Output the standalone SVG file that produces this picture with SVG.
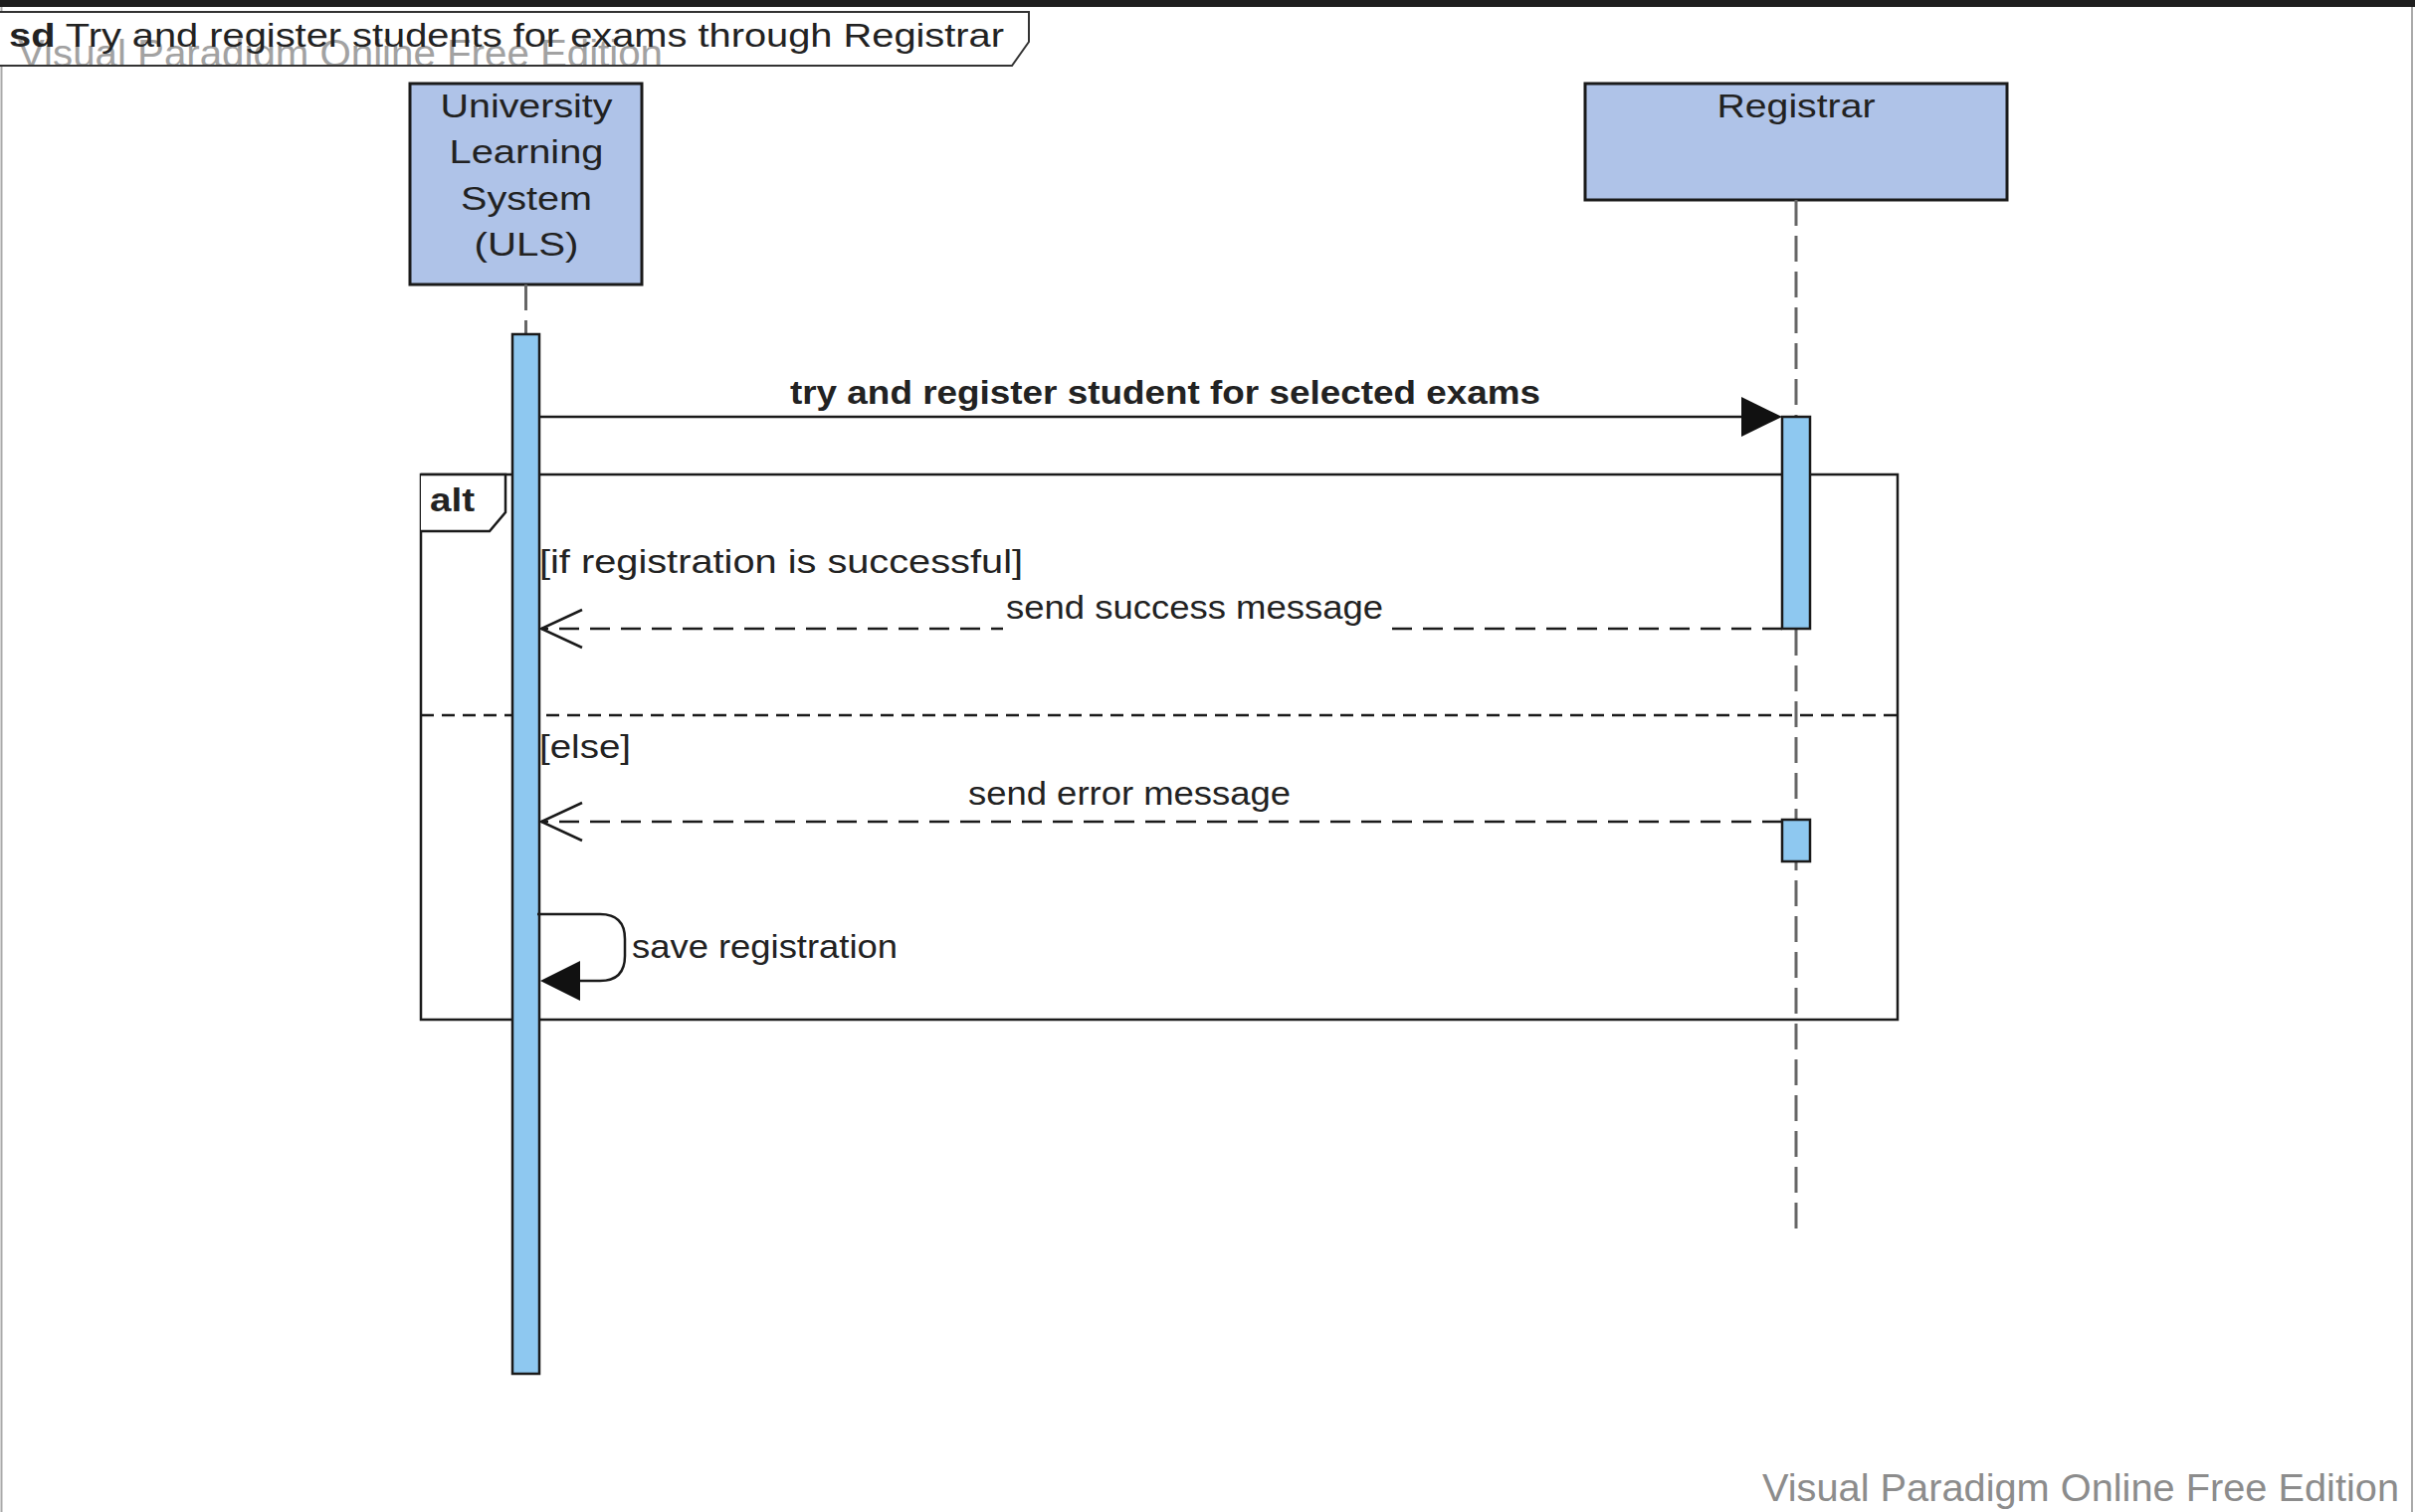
<svg xmlns="http://www.w3.org/2000/svg" width="2427" height="1520" viewBox="0 0 2427 1520">
<style>
text{font-family:"Liberation Sans",Arial,sans-serif;fill:#222}
.lbl{font-size:34px}
.b{font-weight:bold}
.wm{fill:#8c8c8c;font-size:38px}
.box{fill:#afc3e8;stroke:#1a1a1a;stroke-width:3}
.act{fill:#8ec8f0;stroke:#1a1a1a;stroke-width:2.5}
.life{stroke:#666;stroke-width:3;stroke-dasharray:26 10;fill:none}
.msg{stroke:#1a1a1a;stroke-width:2.5;fill:none}
.ret{stroke:#1a1a1a;stroke-width:2.5;fill:none;stroke-dasharray:20 11}
.frm{fill:none;stroke:#1a1a1a;stroke-width:2.5}
</style>
<defs>
<clipPath id="tabclip"><rect x="0" y="0" width="1100" height="65"/></clipPath>
</defs>
<rect x="0" y="0" width="2427" height="1520" fill="#fff"/>
<g id="frame">
<line x1="1.5" y1="0" x2="1.5" y2="1520" stroke="#aaa" stroke-width="2"/>
<line x1="2424" y1="0" x2="2424" y2="1520" stroke="#aaa" stroke-width="2"/>
<rect x="0" y="0" width="2427" height="7" fill="#1e1e1e"/>
<path d="M0,12 H1034 V42 L1017,66 H0" fill="#fff" stroke="#333" stroke-width="2"/>
<text class="wm" x="18" y="67" textLength="648" lengthAdjust="spacingAndGlyphs" clip-path="url(#tabclip)" opacity="0.8">Visual Paradigm Online Free Edition</text>
<text class="lbl" x="9" y="47" textLength="1000" lengthAdjust="spacingAndGlyphs"><tspan class="b">sd</tspan> Try and register students for exams through Registrar</text>
</g>
<g id="alt-fragment">
<rect class="frm" x="423" y="477" width="1484" height="548"/>
<path d="M423,477 H508 V515 L492,534 H423" fill="#fff" stroke="#1a1a1a" stroke-width="2.5"/>
<text class="lbl b" x="432" y="514" textLength="45" lengthAdjust="spacingAndGlyphs">alt</text>
<line x1="423" y1="719" x2="1907" y2="719" stroke="#1a1a1a" stroke-width="2.5" stroke-dasharray="13 8"/>
<text class="lbl" x="542" y="576" textLength="486" lengthAdjust="spacingAndGlyphs">[if registration is successful]</text>
<text class="lbl" x="542" y="762" textLength="92" lengthAdjust="spacingAndGlyphs">[else]</text>
</g>
<g id="uls">
<rect class="box" x="412" y="84" width="233" height="202"/>
<text class="lbl" x="529" y="118" text-anchor="middle" textLength="173" lengthAdjust="spacingAndGlyphs">University</text>
<text class="lbl" x="529" y="164" text-anchor="middle" textLength="155" lengthAdjust="spacingAndGlyphs">Learning</text>
<text class="lbl" x="529" y="211" text-anchor="middle" textLength="132" lengthAdjust="spacingAndGlyphs">System</text>
<text class="lbl" x="529" y="257" text-anchor="middle" textLength="105" lengthAdjust="spacingAndGlyphs">(ULS)</text>
<line class="life" x1="528.5" y1="286" x2="528.5" y2="336"/>
<rect class="act" x="515" y="336" width="27" height="1045"/>
</g>
<g id="registrar">
<rect class="box" x="1593" y="84" width="424" height="117"/>
<text class="lbl" x="1805" y="118" text-anchor="middle" textLength="159" lengthAdjust="spacingAndGlyphs">Registrar</text>
<line class="life" x1="1805" y1="201" x2="1805" y2="1238"/>
<rect class="act" x="1791" y="419" width="28" height="213"/>
<rect class="act" x="1791" y="824" width="28" height="42"/>
</g>
<g id="connectors">
<line class="msg" x1="542" y1="419" x2="1752" y2="419"/>
<polygon points="1791,419 1750,399 1750,439" fill="#111"/>
<text class="lbl b" x="794" y="406" textLength="754" lengthAdjust="spacingAndGlyphs">try and register student for selected exams</text>
<line class="ret" x1="1791" y1="632" x2="544" y2="632"/>
<rect x="1008" y="612" width="384" height="30" fill="#fff"/>
<polyline class="msg" points="585,613 544,632 585,651"/>
<text class="lbl" x="1011" y="622" textLength="379" lengthAdjust="spacingAndGlyphs">send success message</text>
<line class="ret" x1="1791" y1="826" x2="544" y2="826"/>
<polyline class="msg" points="585,807 544,826 585,845"/>
<text class="lbl" x="973" y="809" textLength="324" lengthAdjust="spacingAndGlyphs">send error message</text>
<path class="msg" d="M540,919 H603 Q628,919 628,944 V961 Q628,986 603,986 H580"/>
<polygon points="543,986 583,966 583,1006" fill="#111"/>
<text class="lbl" x="635" y="963" textLength="267" lengthAdjust="spacingAndGlyphs">save registration</text>
</g>
<text class="wm" x="1771" y="1509" textLength="640" lengthAdjust="spacingAndGlyphs">Visual Paradigm Online Free Edition</text>
</svg>
